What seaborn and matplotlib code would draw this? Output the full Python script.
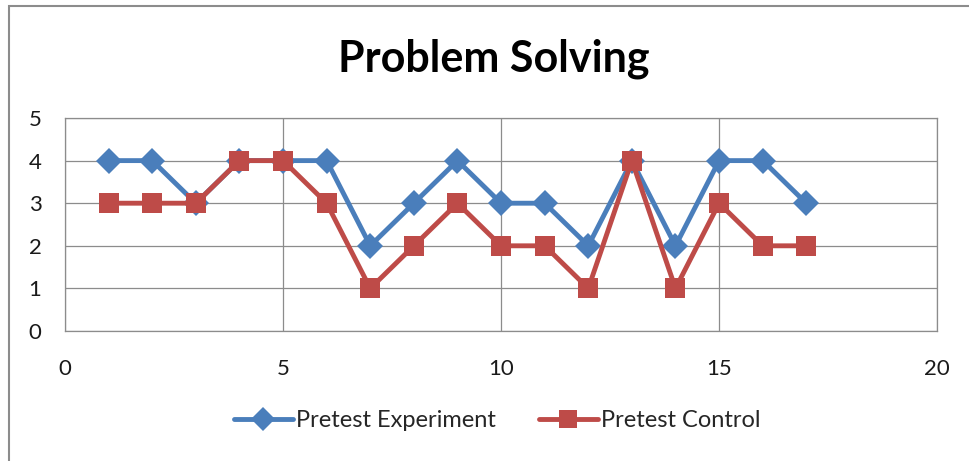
import pandas as pd
import matplotlib.pyplot as plt
import matplotlib.patches as mpatches
import seaborn as sns

# data
students = list(range(1, 18))
pretest_experiment = [4, 4, 3, 4, 4, 4, 2, 3, 4, 3, 3, 2, 4, 2, 4, 4, 3]
pretest_control = [3, 3, 3, 4, 4, 3, 1, 2, 3, 2, 2, 1, 4, 1, 3, 2, 2]
series_names = ['Pretest Experiment', 'Pretest Control']

df = pd.concat([
    pd.DataFrame({'x': students, 'score': pretest_experiment, 'group': series_names[0]}),
    pd.DataFrame({'x': students, 'score': pretest_control, 'group': series_names[1]}),
])

sns.set_style("white")
plt.rcParams['font.family'] = ['Lato', 'DejaVu Sans']

fig = plt.figure(figsize=(9.69, 4.61), dpi=100)
ax = fig.add_axes([0.0671, 0.282, 0.9, 0.462])

palette = {series_names[0]: '#4A7EBB', series_names[1]: '#BE4B48'}
markers = {series_names[0]: 'D', series_names[1]: 's'}

for name in series_names:
    sns.lineplot(data=df[df['group'] == name], x='x', y='score',
                 color=palette[name], marker=markers[name],
                 linewidth=3.5, markersize=13 if name == series_names[0] else 14,
                 markeredgewidth=0, ax=ax)

ax.set_xlim(0, 20)
ax.set_ylim(0, 5)
ax.set_xticks([0, 5, 10, 15, 20])
ax.set_yticks([0, 1, 2, 3, 4, 5])
ax.grid(True, color='#8c8c8c', linewidth=0.9)
ax.set_axisbelow(True)
for s in ax.spines.values():
    s.set_color('#8c8c8c')
    s.set_linewidth(0.9)
ax.tick_params(axis='both', length=0, labelsize=16, colors='#1a1a1a')
ax.tick_params(axis='y', pad=17)
ax.tick_params(axis='x', pad=20)
ax.set_xlabel('')
ax.set_ylabel('')

fig.text(0.51, 0.872, 'Problem Solving', ha='center', va='center',
         fontsize=31, fontweight='bold', color='black')

# legend below the plot
handles = [plt.Line2D([], [], color=palette[n], marker=markers[n], linewidth=3.5,
                      markersize=13 if n == series_names[1] else 12,
                      markeredgewidth=0) for n in series_names]
fig.legend(handles, series_names, loc='center', bbox_to_anchor=(0.513, 0.088),
           ncol=2, frameon=False, fontsize=17, handlelength=2.5,
           columnspacing=1.8, handletextpad=0.15)

# chart frame
frame = mpatches.Rectangle((9 / 969, -0.2), 1.2, 1.2 - 6 / 461, transform=fig.transFigure,
                           fill=False, edgecolor='#8c8c8c', linewidth=1.5,
                           clip_on=False)
fig.patches.append(frame)

plt.savefig('out.png', dpi=100)
